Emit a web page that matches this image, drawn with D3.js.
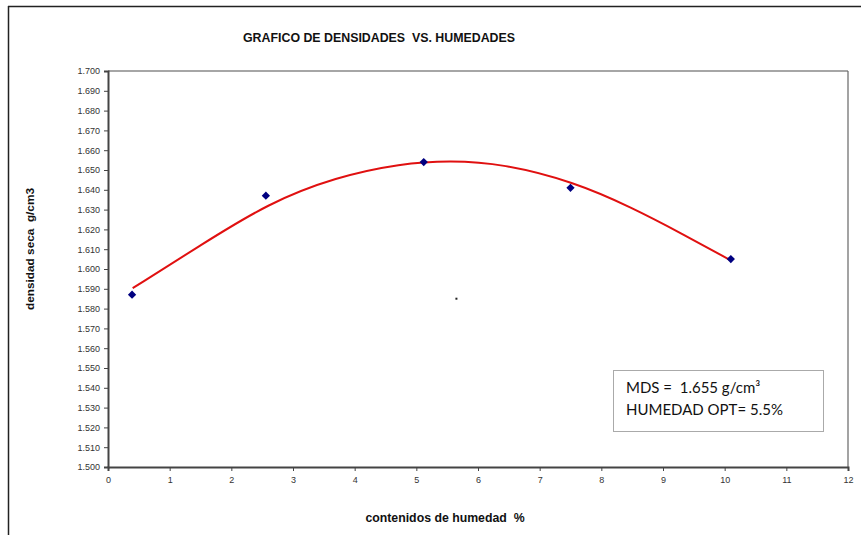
<!DOCTYPE html>
<html>
<head>
<meta charset="utf-8">
<script src="https://cdn.jsdelivr.net/npm/d3@7"></script>
<style>
  html, body { margin: 0; padding: 0; background: #fff; }
  svg { display: block; }
</style>
</head>
<body>
<svg id="chart" width="861" height="535"></svg>
<script>
// ---- data ----
const titleText = "GRAFICO DE DENSIDADES  VS. HUMEDADES";
const xLabel = "contenidos de humedad  %";
const yLabel = "densidad seca  g/cm3";
const annotationLines = ["MDS =  1.655 g/cm³", "HUMEDAD OPT= 5.5%"];

const moisture = [0.39, 2.56, 5.12, 7.50, 10.10];
const density  = [1.587, 1.637, 1.654, 1.641, 1.605];

// trend curve
const trendX = [0.40, 1.50, 2.60, 3.70, 4.75, 5.55, 6.40, 7.55, 8.50, 9.30, 10.09];
const trendY = [1.5903, 1.6120, 1.6333, 1.6465, 1.6533, 1.6548, 1.6532, 1.6441, 1.6310, 1.6180, 1.6045];

// small stray dot visible in the plot
const strayMark = [[5.65, 1.585]];

const xTicks = [0,1,2,3,4,5,6,7,8,9,10,11,12];
const yTicks = d3.range(0, 21).map(i => +(1.5 + i * 0.01).toFixed(3));

// ---- layout ----
const W = 861, H = 535;
const plot = { left: 108, right: 848, top: 71, bottom: 467 };

const svg = d3.select("#chart");

const x = d3.scaleLinear().domain([0, 12]).range([plot.left, plot.right]);
const y = d3.scaleLinear().domain([1.5, 1.7]).range([plot.bottom, plot.top]);

// outer chart border (top and left visible)
svg.append("line").attr("x1", 8).attr("x2", W).attr("y1", 6.5).attr("y2", 6.5)
  .attr("stroke", "#222").attr("stroke-width", 1.5);
svg.append("line").attr("x1", 8.5).attr("x2", 8.5).attr("y1", 6).attr("y2", H)
  .attr("stroke", "#222").attr("stroke-width", 1.5);

// title
svg.append("text")
  .attr("x", 379).attr("y", 42)
  .attr("text-anchor", "middle")
  .attr("font-family", "'Liberation Sans Narrow', 'Arial Narrow', 'Liberation Sans', Arial, sans-serif")
  .attr("font-weight", "bold")
  .attr("font-size", 12.5)
  .attr("fill", "#111")
  .style("white-space", "pre")
  .attr("textLength", 272).attr("lengthAdjust", "spacingAndGlyphs")
  .text(titleText);

// plot frame top/right (gray)
svg.append("line").attr("x1", plot.left).attr("x2", plot.right).attr("y1", plot.top).attr("y2", plot.top)
  .attr("stroke", "#888").attr("stroke-width", 1.5);
svg.append("line").attr("x1", plot.right).attr("x2", plot.right).attr("y1", plot.top).attr("y2", plot.bottom)
  .attr("stroke", "#666").attr("stroke-width", 1.2);

// axes
const axisFont = "'Liberation Sans', Arial, sans-serif";
const yAxis = svg.append("g")
  .attr("transform", `translate(${plot.left},0)`)
  .call(d3.axisLeft(y).tickValues(yTicks).tickFormat(d3.format(".3f")).tickSizeOuter(0).tickSize(4).tickPadding(4));
const xAxis = svg.append("g")
  .attr("transform", `translate(0,${plot.bottom})`)
  .call(d3.axisBottom(x).tickValues(xTicks).tickFormat(d3.format("d")).tickSizeOuter(0).tickSize(4).tickPadding(6));

[xAxis, yAxis].forEach(g => {
  g.select(".domain").attr("stroke", "#444").attr("stroke-width", 2);
  g.selectAll(".tick line").attr("stroke", "#444").attr("stroke-width", 1);
  g.selectAll(".tick text").attr("font-family", axisFont).attr("font-size", 9).attr("fill", "#333");
});

// axis titles
svg.append("text")
  .attr("x", 445).attr("y", 522)
  .attr("text-anchor", "middle")
  .attr("font-family", axisFont).attr("font-weight", "bold").attr("font-size", 12.3)
  .attr("fill", "#111")
  .style("white-space", "pre")
  .text(xLabel);

svg.append("text")
  .attr("transform", "translate(34,249) rotate(-90)")
  .attr("text-anchor", "middle")
  .attr("font-family", axisFont).attr("font-weight", "bold").attr("font-size", 11.8)
  .attr("fill", "#111")
  .style("white-space", "pre")
  .text(yLabel);

// trend curve
const trendData = trendX.map((v, i) => [v, trendY[i]]);
svg.append("path")
  .datum(trendData)
  .attr("fill", "none")
  .attr("stroke", "#e01010")
  .attr("stroke-width", 2)
  .attr("d", d3.line().x(d => x(d[0])).y(d => y(d[1])).curve(d3.curveBasis));

// data markers
const pts = moisture.map((v, i) => [v, density[i]]);
svg.append("g").selectAll("path")
  .data(pts)
  .join("path")
  .attr("transform", d => `translate(${x(d[0])},${y(d[1])}) rotate(45)`)
  .attr("d", d3.symbol().type(d3.symbolSquare).size(34))
  .attr("fill", "#000080");

// stray dot
svg.append("g").selectAll("rect")
  .data(strayMark)
  .join("rect")
  .attr("x", d => x(d[0]) - 1).attr("y", d => y(d[1]) - 1)
  .attr("width", 2).attr("height", 2)
  .attr("fill", "#222");

// annotation box
const box = svg.append("g").attr("transform", "translate(613,370)");
box.append("rect").attr("x", 0.5).attr("y", 0.5).attr("width", 210).attr("height", 61)
  .attr("fill", "#fff").attr("stroke", "#aaa").attr("stroke-width", 1);
box.selectAll("text")
  .data(annotationLines)
  .join("text")
  .attr("x", 13)
  .attr("y", (d, i) => 23 + i * 22)
  .attr("font-family", "Lato, 'Open Sans', sans-serif")
  .attr("font-size", 15)
  .attr("fill", "#111")
  .style("white-space", "pre")
  .text(d => d);
</script>
</body>
</html>
